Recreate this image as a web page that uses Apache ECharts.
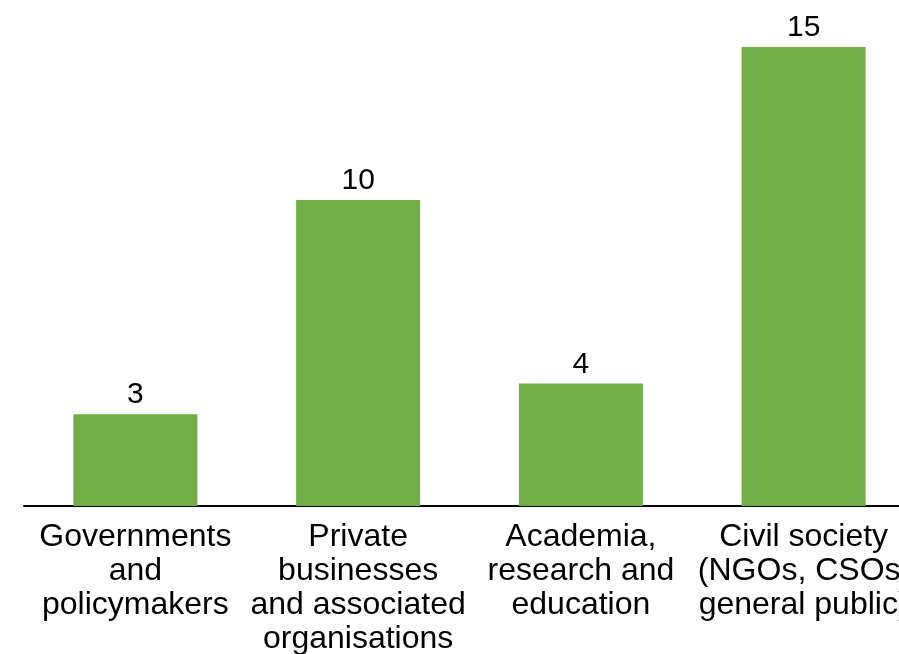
<!DOCTYPE html>
<html>
<head>
<meta charset="utf-8">
<script src="https://cdn.jsdelivr.net/npm/echarts@6/dist/echarts.min.js"></script>
<style>html,body{margin:0;padding:0;background:#fff;}#c{width:899px;height:654px;}</style>
</head>
<body>
<div id="c"></div>
<script>
const categories = [
  "Governments\nand\npolicymakers",
  "Private\nbusinesses\nand associated\norganisations",
  "Academia,\nresearch and\neducation",
  "Civil society\n(NGOs, CSOs,\ngeneral public)"
];
const values = [3, 10, 4, 15];

const chart = echarts.init(document.getElementById('c'));
chart.setOption({
  animation: false,
  grid: { left: 24, width: 891, top: 47, bottom: 148, containLabel: false, outerBoundsMode: 'none' },
  xAxis: {
    type: 'category',
    data: categories,
    axisLine: { show: true, lineStyle: { color: '#000', width: 2 } },
    axisTick: { show: false },
    axisLabel: {
      interval: 0,
      margin: 14,
      color: '#000',
      fontFamily: 'Liberation Sans, Arial, sans-serif',
      fontSize: 32,
      lineHeight: 34,
      align: 'center',
      hideOverlap: false
    }
  },
  yAxis: {
    type: 'value',
    min: 0,
    max: 15,
    show: false,
    splitLine: { show: false }
  },
  series: [{
    type: 'bar',
    data: values,
    barWidth: 124,
    itemStyle: { color: '#70AD47' },
    label: {
      show: true,
      position: 'top',
      distance: 4,
      color: '#000',
      fontFamily: 'Liberation Sans, Arial, sans-serif',
      fontSize: 30
    }
  }]
});
</script>
</body>
</html>
